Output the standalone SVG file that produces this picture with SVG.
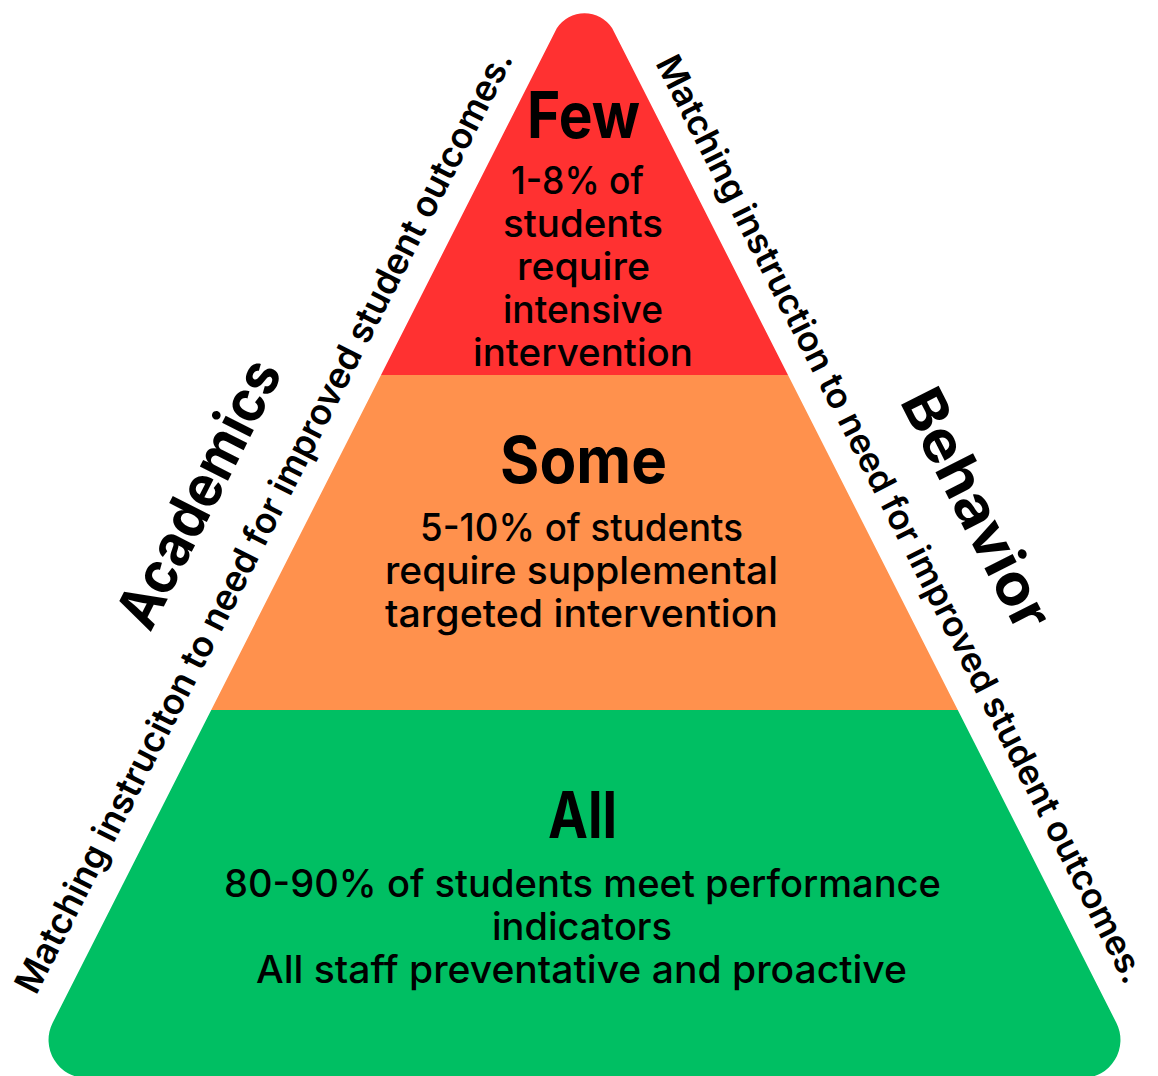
<svg xmlns="http://www.w3.org/2000/svg" width="1158" height="1076" viewBox="0 0 1158 1076">
  <defs>
    <clipPath id="pyr">
      <path d="M 556.8 28.2 A 33 33 0 0 1 612.2 28.2 L 1116.33 1022.77 A 38 38 0 0 1 1082.5 1078 L 86.5 1078 A 38 38 0 0 1 52.67 1022.77 Z"/>
    </clipPath>
    <style>
      .t { font-family: Inter, "Liberation Sans", sans-serif; fill: #000; }
      .title { font-size: 64px; font-weight: 700; text-anchor: middle; }
      .body { font-size: 38px; font-weight: 500; text-anchor: middle; }
      .side { font-size: 36px; font-weight: 600; }
      .side-r { font-size: 35px; font-weight: 600; }
      .cat { font-size: 58px; font-weight: 700; }
    </style>
  </defs>
  <rect width="1158" height="1076" fill="#ffffff"/>

  <g id="pyramid" clip-path="url(#pyr)">
    <rect id="band-few" x="0" y="-30" width="1158" height="405" fill="#FF3131"/>
    <rect id="band-some" x="0" y="375" width="1158" height="335" fill="#FF914D"/>
    <rect id="band-all" x="0" y="710" width="1158" height="380" fill="#00BF63"/>
  </g>

  <g id="tier-few" class="t">
    <text class="title" x="583.5" y="138" textLength="113" lengthAdjust="spacingAndGlyphs">Few</text>
    <text class="body" x="577.5" y="194" textLength="133" lengthAdjust="spacingAndGlyphs">1-8% of</text>
    <text class="body" x="583" y="237" textLength="160" lengthAdjust="spacingAndGlyphs">students</text>
    <text class="body" x="583.5" y="280" textLength="133" lengthAdjust="spacingAndGlyphs">require</text>
    <text class="body" x="583" y="323" textLength="160" lengthAdjust="spacingAndGlyphs">intensive</text>
    <text class="body" x="583" y="366" textLength="220" lengthAdjust="spacingAndGlyphs">intervention</text>
  </g>

  <g id="tier-some" class="t">
    <text class="title" x="583.5" y="483" textLength="167" lengthAdjust="spacingAndGlyphs">Some</text>
    <text class="body" x="581.5" y="541" textLength="323" lengthAdjust="spacingAndGlyphs">5-10% of students</text>
    <text class="body" x="581.5" y="584" textLength="393" lengthAdjust="spacingAndGlyphs">require supplemental</text>
    <text class="body" x="581.5" y="627" textLength="393" lengthAdjust="spacingAndGlyphs">targeted intervention</text>
  </g>

  <g id="tier-all" class="t">
    <text class="title" x="582.5" y="838" textLength="69" lengthAdjust="spacingAndGlyphs">All</text>
    <text class="body" x="582.5" y="897" textLength="717" lengthAdjust="spacingAndGlyphs">80-90% of students meet performance</text>
    <text class="body" x="582" y="940" textLength="180" lengthAdjust="spacingAndGlyphs">indicators</text>
    <text class="body" x="581.5" y="983" textLength="651" lengthAdjust="spacingAndGlyphs">All staff preventative and proactive</text>
  </g>

  <g id="side-left" class="t">
    <text class="side" transform="translate(36 996) rotate(-63)" x="0" y="0" textLength="1052" lengthAdjust="spacingAndGlyphs">Matching instruciton to need for improved student outcomes.</text>
  </g>
  <g id="label-academics" class="t">
    <text class="cat" transform="translate(150.2 633.3) rotate(-63)" x="0" y="0" textLength="293" lengthAdjust="spacingAndGlyphs">Academics</text>
  </g>

  <g id="side-right" class="t">
    <text class="side-r" transform="translate(655 63) rotate(63)" x="0" y="0" textLength="1036" lengthAdjust="spacingAndGlyphs">Matching instruction to need for improved student outcomes.</text>
  </g>
  <g id="label-behavior" class="t">
    <text class="cat" transform="translate(899.2 401.2) rotate(63)" x="0" y="0" textLength="262" lengthAdjust="spacingAndGlyphs">Behavior</text>
  </g>
</svg>
